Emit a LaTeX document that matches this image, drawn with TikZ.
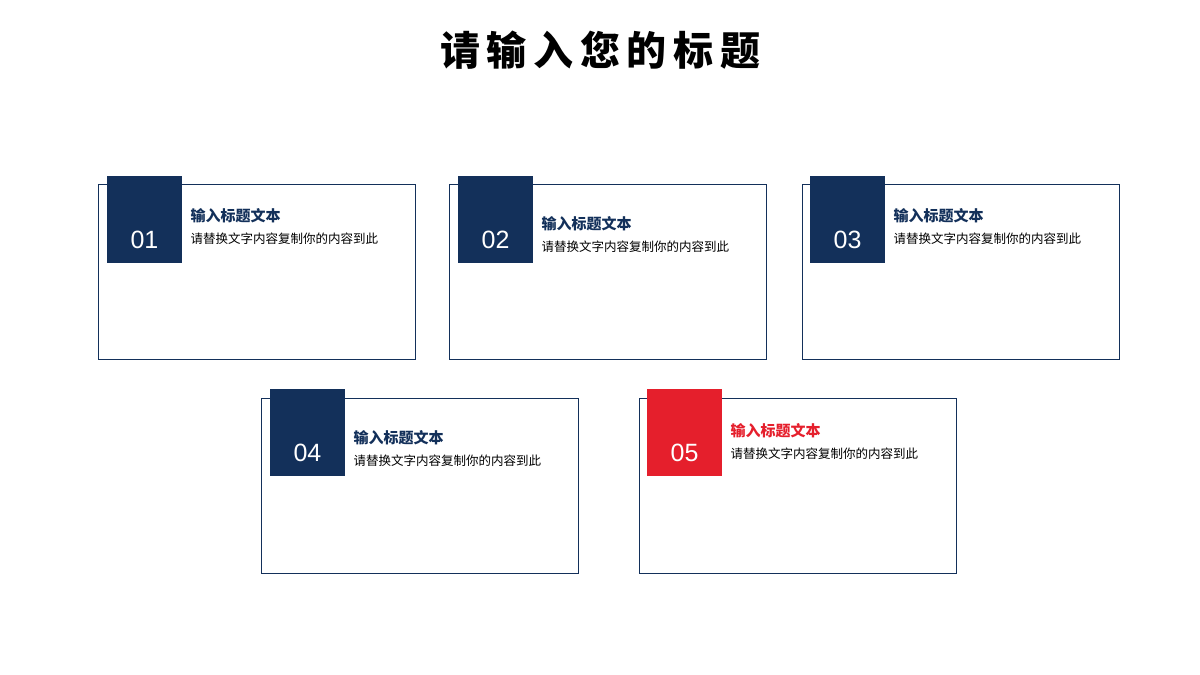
\documentclass[tikz,border=0pt]{standalone}
\usepackage{fontspec}
\newfontfamily\cjk{Noto Sans CJK SC}
\setsansfont{Liberation Sans}
\definecolor{navy}{HTML}{13305A}
\definecolor{myred}{HTML}{E51F2C}
\begin{document}
\begin{tikzpicture}[x=1pt,y=-1pt,
  outer/.style={draw=navy,line width=0.8pt},
  sq/.style={fill=#1},
  num/.style={text=white,font=\sffamily\fontsize{25}{25}\selectfont},
  ttl/.style={anchor=west,font=\cjk\bfseries\fontsize{15}{15}\selectfont,text=#1},
  sub/.style={anchor=west,font=\cjk\fontsize{12.5}{13}\selectfont,text=black}]
\useasboundingbox (0,0) rectangle (1200,675);
\node[font=\cjk\bfseries\fontsize{40}{40}\selectfont] (title) at (600,50) {请\,输\,入\,您\,的\,标\,题};
\foreach \i/\ox/\oy/\sx/\sy/\ty/\c in {1/98/184/107/176/216/navy,2/449/184/458/176/224/navy,3/802/184/810/176/216/navy,4/261/398/270/389/438/navy,5/639/398/647/389/431/myred}{
  \draw[outer] (\ox,\oy) rectangle ++(317,175);
  \fill[\c] (\sx,\sy) rectangle ++(75,87);
  \node[num] (n\i) at (\sx+37.5,\sy+64) {0\i};
  \node[ttl=\c] (t\i) at (\sx+80,\ty) {输入标题文本};
  \node[sub] (s\i) at (\sx+80,\ty+23) {请替换文字内容复制你的内容到此};
}
\end{tikzpicture}
\end{document}
